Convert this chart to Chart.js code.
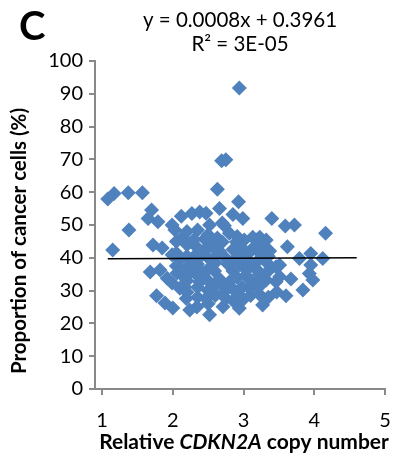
<!DOCTYPE html>
<html>
<head>
<meta charset="utf-8">
<script src="https://cdn.jsdelivr.net/npm/chart.js@4/dist/chart.umd.min.js"></script>
<style>
  html, body { margin: 0; padding: 0; background: #fff; }
</style>
</head>
<body>
<canvas id="chart" width="395" height="457"></canvas>
<script>
// ---- data ----
const copyNumber = [
    2.94, 2.69, 2.75, 2.63, 2.93, 1.08, 1.17, 1.37, 1.57, 1.70,
    1.65, 1.79, 1.38, 1.15, 2.12, 2.27, 2.38, 2.47, 2.66, 2.85,
    2.99, 3.40, 3.59, 3.72, 4.16, 1.99, 2.03, 2.14, 1.72, 1.85,
    1.99, 1.68, 1.82, 1.92, 2.06, 1.99, 1.77, 1.89, 2.00, 2.24,
    2.17, 2.10, 2.27, 2.52, 2.34, 2.71, 2.94, 3.27, 3.60, 3.67,
    3.46, 3.32, 3.84, 3.98, 3.93, 3.95, 3.79, 3.95, 4.12, 3.62,
    3.51, 3.46, 3.32, 3.18, 3.32, 3.01, 3.51, 3.13, 3.23, 2.80,
    2.73, 2.35, 2.52, 2.70, 2.45, 2.63, 2.52, 2.70, 2.90, 2.34,
    2.62, 2.94, 3.23, 3.37, 3.23, 3.47, 2.10, 2.19, 2.47, 2.75,
    2.94, 3.08, 2.38, 2.80, 3.03, 3.18, 2.59,
    2.05, 2.05, 2.05, 2.20, 2.20, 2.20, 2.20, 2.20, 2.20,
    2.35, 2.35, 2.35, 2.35, 2.35, 2.50, 2.50, 2.50, 2.50, 2.50, 2.50, 2.50,
    2.60, 2.60, 2.60, 2.72, 2.72, 2.72, 2.85, 2.85, 2.85, 2.85, 2.85,
    2.98, 2.98, 2.98, 2.98, 2.98, 3.10, 3.10, 3.10, 3.10,
    3.22, 3.22, 3.22, 3.35, 3.35, 3.35,
    2.28, 2.42, 2.56, 2.66, 2.78, 2.91, 3.04, 3.16, 2.42, 2.66, 2.91, 3.16,
    2.14, 2.30, 2.60, 3.06, 3.28
];
const cancerPct = [
    91.8, 69.6, 69.9, 60.9, 57.1, 57.9, 59.6, 59.8, 59.8, 54.6,
    52.0, 51.0, 48.5, 42.4, 52.7, 53.5, 54.0, 53.6, 55.0, 53.2,
    52.0, 52.0, 49.7, 50.0, 47.5, 50.0, 48.5, 46.3, 43.9, 43.0,
    40.9, 35.7, 36.3, 33.8, 35.4, 32.3, 28.4, 26.2, 24.7, 24.1,
    31.1, 39.3, 36.0, 22.6, 25.0, 25.1, 24.6, 25.6, 28.4, 33.5,
    32.7, 33.2, 30.2, 33.2, 35.2, 37.8, 39.8, 41.3, 39.8, 43.4,
    37.8, 37.3, 38.7, 45.4, 45.4, 45.4, 34.2, 46.3, 46.3, 47.5,
    49.8, 48.5, 50.0, 50.6, 45.7, 46.0, 45.4, 44.8, 44.8, 41.2,
    42.1, 41.2, 41.5, 42.1, 31.4, 29.6, 30.7, 27.6, 27.6, 27.6,
    28.7, 30.7, 32.6, 32.6, 34.6, 36.6, 36.0,
    37.5, 41.5, 45.0, 29.5, 33.0, 37.0, 40.5, 44.0, 48.0,
    28.0, 31.0, 34.5, 38.0, 43.0, 26.0, 30.0, 33.0, 36.5, 40.0, 43.5, 47.0,
    28.5, 31.5, 38.5, 29.5, 31.5, 40.5, 27.0, 30.5, 36.0, 39.0, 42.5,
    27.0, 31.0, 37.5, 40.0, 43.0, 28.5, 33.0, 38.5, 42.0,
    29.0, 35.0, 39.5, 28.0, 36.0, 40.5,
    38.5, 35.5, 39.0, 42.0, 38.0, 34.0, 39.0, 32.0, 41.0, 33.5, 46.5, 43.5,
    34.5, 45.5, 44.0, 36.5, 43.0
];
const xTicks = [1, 2, 3, 4, 5];
const yTicks = [0, 10, 20, 30, 40, 50, 60, 70, 80, 90, 100];

// linear trendline as printed on the figure (proportion -> percent)
const slope = 0.0008;
const intercept = 0.3961;
const rSquared = '3E-05';
const trendFrom = 1.08;
const trendTo = 4.6;

const axisGray = '#898989';
const pointBlue = '#4f81bd';

const points = copyNumber.map((x, i) => ({ x: x, y: cancerPct[i] }));
const trendLine = [trendFrom, trendTo].map(x => ({ x: x, y: (slope * x + intercept) * 100 }));

Chart.defaults.font.family = 'Lato, "DejaVu Sans", sans-serif';
Chart.defaults.color = '#000';

/**
 * Panel letter, equation, and axis titles (x title has an italic gene name)
 */
const panelText = {
    id: 'panelText',
    afterDraw(chart) {
        const ctx = chart.ctx;
        ctx.save();
        ctx.fillStyle = '#000';
        ctx.textBaseline = 'alphabetic';

        ctx.textAlign = 'left';
        ctx.font = 'bold 40px Lato';
        ctx.fillText('C', 19, 40);

        ctx.textAlign = 'center';
        ctx.font = '20.5px Lato';
        ctx.fillText('y = ' + slope + 'x + ' + intercept, 240, 27);
        ctx.fillText('R\u00b2 = ' + rSquared, 240, 51);

        // x axis title
        const parts = [
            { t: 'Relative ', f: 'bold 21px Lato' },
            { t: 'CDKN2A', f: 'italic bold 21px Lato' },
            { t: ' copy number', f: 'bold 21px Lato' }
        ];
        let total = 0;
        parts.forEach(p => { ctx.font = p.f; p.w = ctx.measureText(p.t).width; total += p.w; });
        let x = 244 - total / 2;
        ctx.textAlign = 'left';
        parts.forEach(p => { ctx.font = p.f; ctx.fillText(p.t, x, 449); x += p.w; });

        // y axis title
        ctx.translate(19, 241);
        ctx.rotate(-Math.PI / 2);
        ctx.textAlign = 'center';
        ctx.textBaseline = 'middle';
        ctx.font = 'bold 20.5px Lato';
        ctx.fillText('Proportion of cancer cells (%)', 0, 0);
        ctx.restore();
    }
};

new Chart(document.getElementById('chart'), {
    type: 'scatter',
    data: {
        datasets: [{
            label: 'samples',
            data: points,
            pointStyle: 'rectRot',
            pointRadius: 7.5,
            pointBackgroundColor: pointBlue,
            pointBorderColor: pointBlue,
            pointBorderWidth: 0,
            order: 2
        }, {
            type: 'line',
            label: 'trend',
            data: trendLine,
            showLine: true,
            borderColor: '#000',
            borderWidth: 1.5,
            pointRadius: 0,
            fill: false,
            order: 1
        }]
    },
    options: {
        responsive: false,
        animation: false,
        devicePixelRatio: 1,
        layout: { padding: { top: 61, right: 10, bottom: 0, left: 0 } },
        plugins: {
            legend: { display: false },
            tooltip: { enabled: false }
        },
        scales: {
            x: {
                type: 'linear',
                min: 0.9,
                max: 5,
                afterBuildTicks: scale => { scale.ticks = xTicks.map(v => ({ value: v })); },
                afterFit: scale => {
                    scale.height = 68;
                    // tick padding would otherwise be added to the sides
                    scale.paddingLeft = 0;
                    scale.paddingRight = 0;
                },
                border: { color: axisGray, width: 2 },
                grid: { drawOnChartArea: false, drawTicks: true, tickLength: 6, color: axisGray, lineWidth: 2 },
                ticks: { font: { size: 20 }, padding: 14, maxRotation: 0 }
            },
            y: {
                type: 'linear',
                min: 0,
                max: 100,
                afterBuildTicks: scale => { scale.ticks = yTicks.map(v => ({ value: v })); },
                afterFit: scale => { scale.width = 95; },
                border: { color: axisGray, width: 2 },
                grid: { drawOnChartArea: false, drawTicks: true, tickLength: 6, color: axisGray, lineWidth: 2 },
                ticks: { font: { size: 20 }, padding: 6 }
            }
        }
    },
    plugins: [panelText]
});
</script>
</body>
</html>
